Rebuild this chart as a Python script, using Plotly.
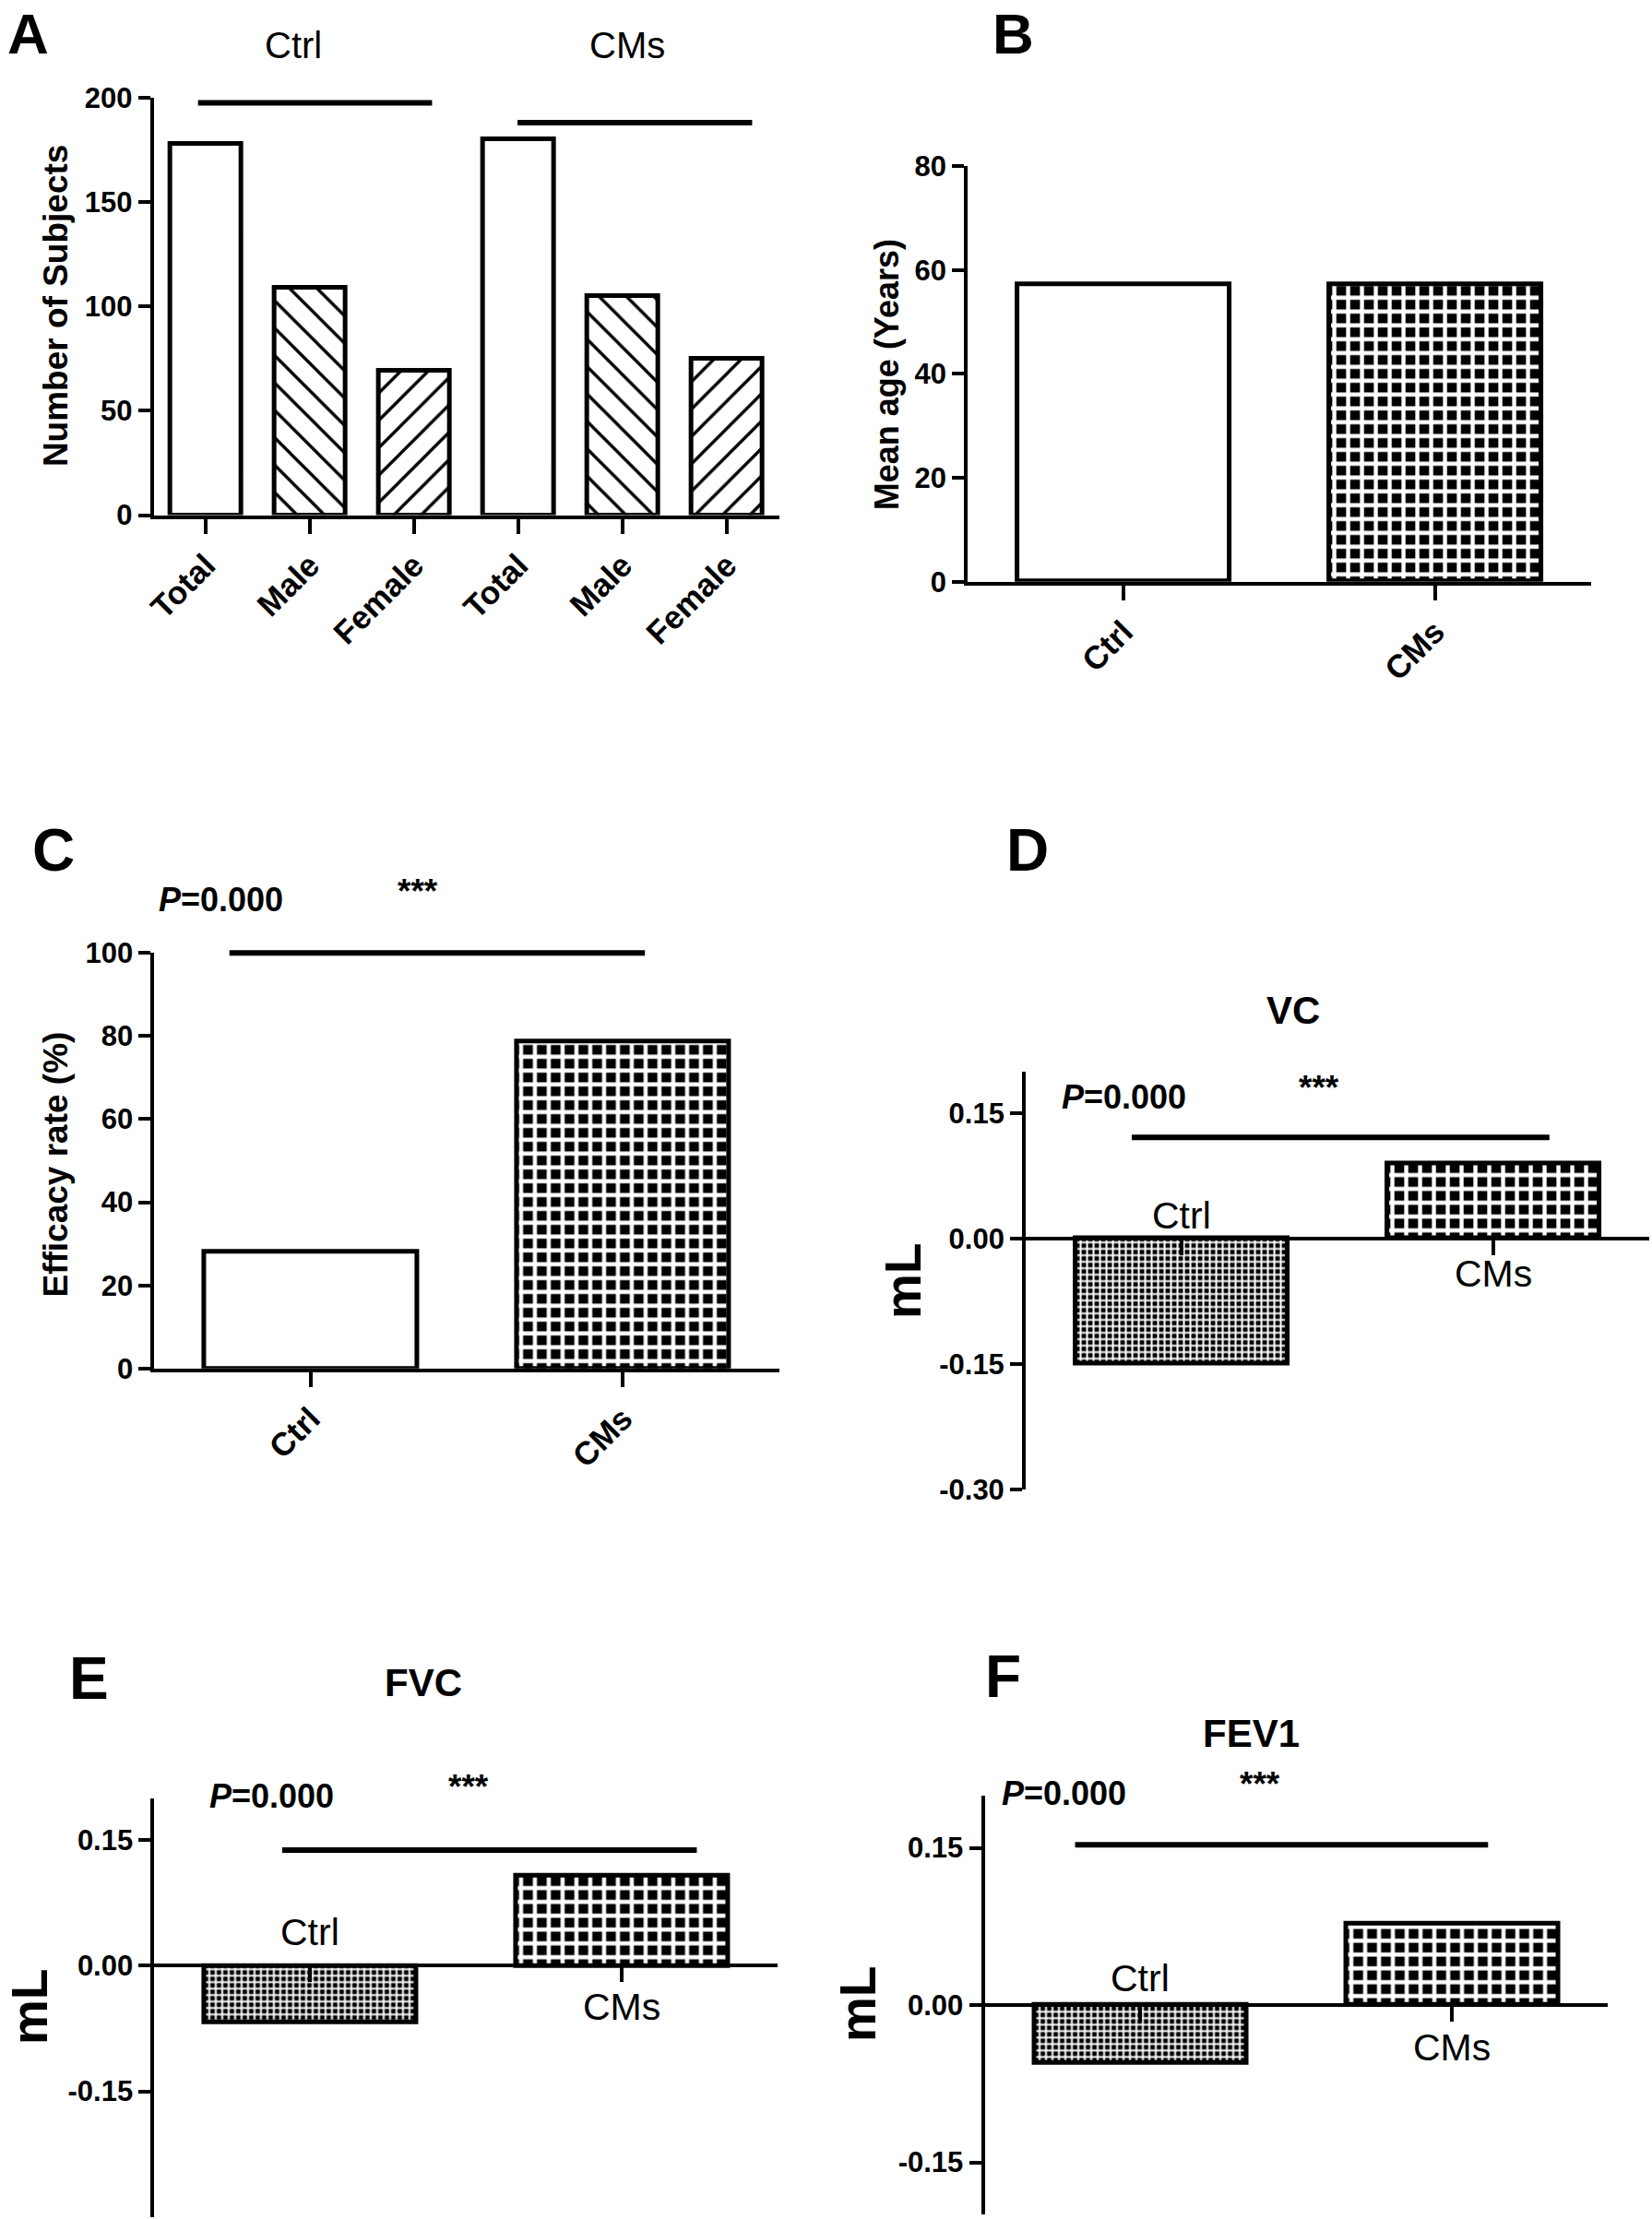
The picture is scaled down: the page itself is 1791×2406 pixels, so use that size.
import plotly.graph_objects as go

# ---------------- data ----------------
a_categories = ["Total", "Male", "Female", "Total", "Male", "Female"]
a_groups = ["Ctrl", "CMs"]
a_counts = [178, 109, 69, 180, 105, 75]
a_yticks = [0, 50, 100, 150, 200]

groups = ["Ctrl", "CMs"]
b_mean_age = [57.3, 57.2]
b_yticks = [0, 20, 40, 60, 80]

c_efficacy = [28.1, 78.7]
c_yticks = [0, 20, 40, 60, 80, 100]

d_vc = [-0.149, 0.090]
e_fvc = [-0.068, 0.108]
f_fev1 = [-0.055, 0.078]
d_yticks = [0.15, 0.00, -0.15, -0.30]
d_yticklabels = ["0.15", "0.00", "-0.15", "-0.30"]
ef_yticks = [0.15, 0.00, -0.15]
ef_yticklabels = ["0.15", "0.00", "-0.15"]

p_text = "<i>P</i>=0.000"
stars = "***"

# ---------------- layout helpers ----------------
W, H = 1791, 2406
MW, MH = 1166.0, 1568.0  # measuring frame of the reference


def px(x):
    return x / MW


def py(y):
    return 1 - y / MH


FONT = "Liberation Sans, Arial, sans-serif"
BLACK = "black"
AXW = 4
BARLINE = 5
BARW = 0.68


def yaxis(domain, rng, tickvals, ticktext, anchor):
    return dict(domain=domain, range=rng, tickvals=tickvals, ticktext=ticktext,
                showline=True, linewidth=AXW, linecolor=BLACK, ticks="outside",
                ticklen=13, tickwidth=AXW, tickcolor=BLACK, showgrid=False,
                zeroline=False, anchor=anchor, fixedrange=True, automargin=False,
                tickfont=dict(family=FONT, size=31, color=BLACK, weight="bold"))


def xaxis(domain, rng, tickvals, ticktext, anchor, angle=-45, free_pos=None):
    d = dict(domain=domain, range=rng, tickvals=tickvals, ticktext=ticktext,
             showline=True, linewidth=AXW, linecolor=BLACK, ticks="outside",
             ticklen=16, tickwidth=AXW, tickcolor=BLACK, showgrid=False,
             zeroline=False, fixedrange=True, tickangle=angle, automargin=False,
             tickfont=dict(family=FONT, size=35, color=BLACK, weight="bold"))
    if free_pos is None:
        d["anchor"] = anchor
    else:
        d["anchor"] = "free"
        d["position"] = free_pos
        d["showticklabels"] = False
    return d


def to_paper(domain, rng, v):
    return domain[0] + (v - rng[0]) / (rng[1] - rng[0]) * (domain[1] - domain[0])


fig = go.Figure()

# ---------------- Panel A ----------------
a_x = list(range(len(a_categories)))
a_shapes = ["" if c == "Total" else ("\\" if c == "Male" else "/") for c in a_categories]
fig.add_trace(go.Bar(
    x=a_x, y=a_counts, width=BARW, xaxis="x", yaxis="y",
    marker=dict(color="white", line=dict(color=BLACK, width=BARLINE),
                pattern=dict(shape=a_shapes, fgcolor=BLACK, bgcolor="white",
                             size=21, solidity=0.16, fillmode="replace")),
    hoverinfo="skip"))

# ---------------- Panel B ----------------
g_x = list(range(len(groups)))
coarse = dict(shape=["", "+"], fgcolor=["black", "white"], bgcolor=["white", "black"],
              size=15, solidity=0.5, fillmode="replace")
fig.add_trace(go.Bar(
    x=g_x, y=b_mean_age, width=BARW, xaxis="x2", yaxis="y2",
    marker=dict(color="white", line=dict(color=BLACK, width=BARLINE), pattern=coarse),
    hoverinfo="skip"))

# ---------------- Panel C ----------------
fig.add_trace(go.Bar(
    x=g_x, y=c_efficacy, width=BARW, xaxis="x3", yaxis="y3",
    marker=dict(color="white", line=dict(color=BLACK, width=BARLINE), pattern=coarse),
    hoverinfo="skip"))

# ---------------- Panels D, E, F ----------------
lung = dict(shape=["+", "+"], fgcolor=["white", "white"], bgcolor=["black", "black"],
            size=[7, 15], solidity=0.5, fillmode="replace")
for vals, xa, ya in [(d_vc, "x4", "y4"), (e_fvc, "x5", "y5"), (f_fev1, "x6", "y6")]:
    fig.add_trace(go.Bar(
        x=g_x, y=vals, width=BARW, xaxis=xa, yaxis=ya,
        marker=dict(color="white", line=dict(color=BLACK, width=BARLINE), pattern=lung),
        hoverinfo="skip"))

# ---------------- axes ----------------
A_xd, A_yd = [px(108.5), px(550)], [py(364), py(69)]
B_xd, B_yd = [px(683), px(1123)], [py(411), py(117.5)]
C_xd, C_yd = [px(109), px(550)], [py(967), py(673.4)]
D_xd, D_yd = [px(724), px(1164)], [py(1052.6), py(757)]
E_xd, E_yd = [px(109), px(549)], [py(1566.6), py(1270.6)]
F_xd, F_yd = [px(695), px(1135)], [py(1565), py(1268.7)]

A_yr = [0, 200]
B_yr = [0, 80]
C_yr = [0, 100]
D_yr = [-0.30, 0.20]
E_yr = [-0.30, 0.20]
F_yr = [-0.20, 0.20]

fig.update_layout(
    xaxis=xaxis(A_xd, [-0.5, 5.5], a_x, a_categories, "y"),
    yaxis=yaxis(A_yd, A_yr, a_yticks, [str(v) for v in a_yticks], "x"),
    xaxis2=xaxis(B_xd, [-0.5, 1.5], g_x, groups, "y2"),
    yaxis2=yaxis(B_yd, B_yr, b_yticks, [str(v) for v in b_yticks], "x2"),
    xaxis3=xaxis(C_xd, [-0.5, 1.5], g_x, groups, "y3"),
    yaxis3=yaxis(C_yd, C_yr, c_yticks, [str(v) for v in c_yticks], "x3"),
    xaxis4=xaxis(D_xd, [-0.5, 1.5], g_x, groups, "y4", free_pos=to_paper(D_yd, D_yr, 0)),
    yaxis4=yaxis(D_yd, D_yr, d_yticks, d_yticklabels, "x4"),
    xaxis5=xaxis(E_xd, [-0.5, 1.5], g_x, groups, "y5", free_pos=to_paper(E_yd, E_yr, 0)),
    yaxis5=yaxis(E_yd, E_yr, ef_yticks, ef_yticklabels, "x5"),
    xaxis6=xaxis(F_xd, [-0.5, 1.5], g_x, groups, "y6", free_pos=to_paper(F_yd, F_yr, 0)),
    yaxis6=yaxis(F_yd, F_yr, ef_yticks, ef_yticklabels, "x6"),
)

# ---------------- significance lines ----------------
# (x axis, y domain, y range, x start, x end, height in data units)
sig_lines = [
    ("x", A_yd, A_yr, -0.075, 2.17, 197.5),
    ("x", A_yd, A_yr, 2.99, 5.24, 188),
    ("x3", C_yd, C_yr, -0.26, 1.07, 100),
    ("x4", D_yd, D_yr, -0.16, 1.18, 0.121),
    ("x5", E_yd, E_yr, -0.09, 1.24, 0.138),
    ("x6", F_yd, F_yr, -0.21, 1.115, 0.153),
]
shapes = []
for xr, yd, yr, x0, x1, yv in sig_lines:
    yp = to_paper(yd, yr, yv)
    shapes.append(dict(type="line", xref=xr, yref="paper", x0=x0, x1=x1, y0=yp, y1=yp,
                       line=dict(color=BLACK, width=6), layer="above"))
fig.update_layout(shapes=shapes)

# ---------------- text ----------------
ann = []


def add_text(text, x, y, size, bold=True, angle=0, xref="paper", yanchor="middle"):
    ann.append(dict(text=text, x=x, y=y, xref=xref, yref="paper", showarrow=False,
                    xanchor="center", yanchor=yanchor, textangle=angle,
                    font=dict(family=FONT, size=size, color=BLACK,
                              weight="bold" if bold else "normal")))


# panel letters (top row anchored to the page top so they are not clipped)
add_text("A", px(20), 1.0, 62, yanchor="top")
add_text("B", px(715), 1.0, 62, yanchor="top")
for letter, (lx, ly) in zip("CDEF", [(38, 601), (725, 601), (63, 1186), (708, 1185)]):
    add_text(letter, px(lx), py(ly), 64)

# panel A group headers
add_text(a_groups[0], px(207), py(32), 40, bold=False)
add_text(a_groups[1], px(443), py(32), 40, bold=False)

# y axis titles
add_text("Number of Subjects", px(39.5), py(216), 37, angle=-90)
add_text("Mean age (Years)", px(626), py(265), 36, angle=-90)
add_text("Efficacy rate (%)", px(39.5), py(823), 37, angle=-90)
for mx, my in [(637, 905), (21, 1418), (605, 1416)]:
    add_text("mL", px(mx), py(my), 55, angle=-90)

# panel titles
add_text("VC", px(913), py(714), 42)
add_text("FVC", px(299), py(1189), 42)
add_text("FEV1", px(883), py(1225), 42)

# P values and stars
for (pxm, pym), (sxm, sym) in [((156, 636), (295, 630)), ((793, 775), (931, 769)),
                               ((192, 1269), (331, 1263)), ((751, 1267), (889, 1261))]:
    add_text(p_text, px(pxm), py(pym), 36)
    add_text(stars, px(sxm), py(sym), 37)

# category labels for D/E/F (Ctrl above axis, CMs below)
for xr, (cy, my) in [("x4", (859, 900)), ("x5", (1365, 1418)), ("x6", (1398, 1447))]:
    add_text(groups[0], g_x[0], py(cy), 41, bold=False, xref=xr)
    add_text(groups[1], g_x[1], py(my), 41, bold=False, xref=xr)

fig.update_layout(
    annotations=ann,
    width=W, height=H,
    margin=dict(l=0, r=0, t=0, b=0, pad=0, autoexpand=False),
    paper_bgcolor="white", plot_bgcolor="rgba(0,0,0,0)",
    showlegend=False, bargap=0,
    font=dict(family=FONT, color=BLACK),
)

fig.write_html("out.html", config={"displayModeBar": False},
               post_script="document.body.style.margin='0';document.body.style.overflow='hidden';")
